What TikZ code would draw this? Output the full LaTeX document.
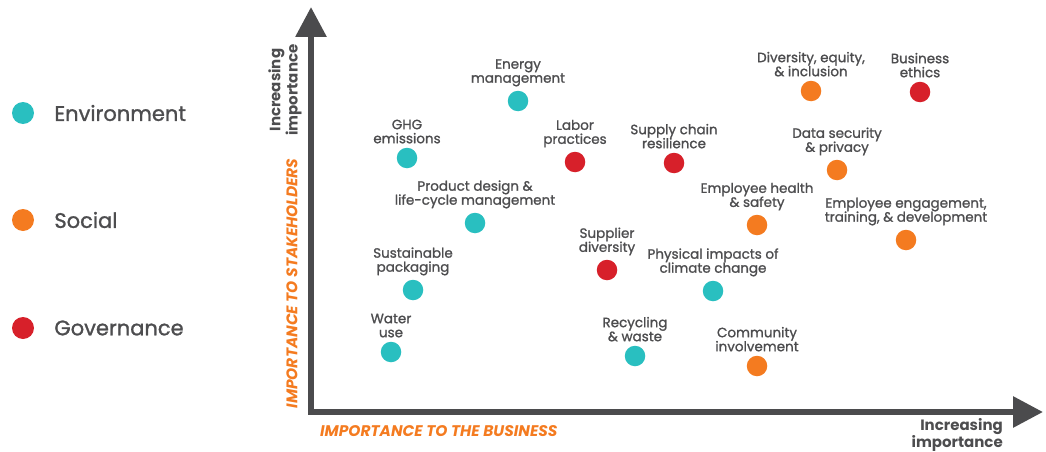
\documentclass[tikz,border=0pt]{standalone}
\usepackage{xcolor}
\usepackage{fontspec}
\setmainfont{Poppins}
\newfontfamily\mediumfont[FakeBold=1.2]{Poppins}
\usetikzlibrary{positioning, arrows.meta}

\definecolor{envteal}{HTML}{29BFC0}
\definecolor{socorange}{HTML}{F47B20}
\definecolor{govred}{HTML}{D7202A}
\definecolor{inkgray}{HTML}{4D4D4F}
\definecolor{axisgray}{HTML}{4B4B4D}

\begin{document}
\begin{tikzpicture}[x=1pt,y=-1pt,
    issue/.style={circle,inner sep=0pt,minimum size=20.5pt},
    envdot/.style={issue,fill=envteal},
    socdot/.style={issue,fill=socorange},
    govdot/.style={issue,fill=govred},
    topic/.style={align=center,text=inkgray,inner sep=0pt,font=\mediumfont\fontsize{13.5}{14}\selectfont},
    keytext/.style={text=inkgray,inner sep=0pt,font=\mediumfont\fontsize{21}{24}\selectfont},
    axisname/.style={align=center,text=inkgray,inner sep=0pt,font=\bfseries\fontsize{15}{13.5}\selectfont},
    axistitle/.style={text=socorange,inner sep=0pt,font=\bfseries\itshape\fontsize{15.4}{16}\selectfont}
  ]
    \useasboundingbox (0,0) rectangle (1046,452);

    % Legenda
    \node[envdot,minimum size=22pt] (envkey) at (23,113) {};
    \node[socdot,minimum size=22pt] (sockey) at (23,220) {};
    \node[govdot,minimum size=22pt] (govkey) at (23,328) {};
    \node[keytext,right=20pt of envkey] {Environment};
    \node[keytext,right=20pt of sockey] {Social};
    \node[keytext,right=20pt of govkey] {Governance};

    % Assi
    \coordinate (origin) at (311,412);
    \coordinate (ytip) at (311,7);
    \coordinate (xtip) at (1043,412);
    \draw[axisgray,line width=6pt,line join=miter,
      {Triangle[length=30pt,width=30pt]}-{Triangle[length=30pt,width=30pt]}]
      (ytip) -- (origin) -- (xtip);
    \node[axisname,rotate=90] (yname) at (285,90) {Increasing\\importance};
    \node[axisname,align=right,anchor=north east] (xname) at (1003,418) {Increasing\\importance};
    \node[axistitle,rotate=90] (ytitle) at (292,283.5) {IMPORTANCE TO STAKEHOLDERS};
    \node[axistitle,anchor=west] (xtitle) at (320,431) {IMPORTANCE TO THE BUSINESS};

    % Environment
    \node[envdot] (energy) at (518,101) {};
    \node[topic,above=4pt of energy] {Energy\\management};
    \node[envdot] (ghg) at (407,158) {};
    \node[topic,above=4pt of ghg] {GHG\\emissions};
    \node[envdot] (product) at (475,223) {};
    \node[topic,above=4pt of product] {Product design \&\\life-cycle management};
    \node[envdot] (packaging) at (413,290) {};
    \node[topic,above=4pt of packaging] {Sustainable\\packaging};
    \node[envdot] (water) at (391,352) {};
    \node[topic,above=4pt of water] {Water\\use};
    \node[envdot] (climate) at (713,291) {};
    \node[topic,above=4pt of climate] {Physical impacts of\\climate change};
    \node[envdot] (recycling) at (635,356) {};
    \node[topic,above=4pt of recycling] {Recycling\\\& waste};

    % Social
    \node[socdot] (diversity) at (811,91) {};
    \node[topic,above=4pt of diversity] {Diversity, equity,\\\& inclusion};
    \node[socdot] (datasec) at (837,170) {};
    \node[topic,above=4pt of datasec] {Data security\\\& privacy};
    \node[socdot] (health) at (757,225) {};
    \node[topic,above=4pt of health] {Employee health\\\& safety};
    \node[socdot] (engagement) at (906,240) {};
    \node[topic,above=4pt of engagement] {Employee engagement,\\training, \& development};
    \node[socdot] (community) at (757,366) {};
    \node[topic,above=4pt of community] {Community\\involvement};

    % Governance
    \node[govdot] (ethics) at (920,92) {};
    \node[topic,above=4pt of ethics] {Business\\ethics};
    \node[govdot] (labor) at (575,162) {};
    \node[topic,above=4pt of labor] {Labor\\practices};
    \node[govdot] (supply) at (674,163) {};
    \node[topic,above=4pt of supply] {Supply chain\\resilience};
    \node[govdot] (supplier) at (607,270) {};
    \node[topic,above=4pt of supplier] {Supplier\\diversity};
\end{tikzpicture}
\end{document}
